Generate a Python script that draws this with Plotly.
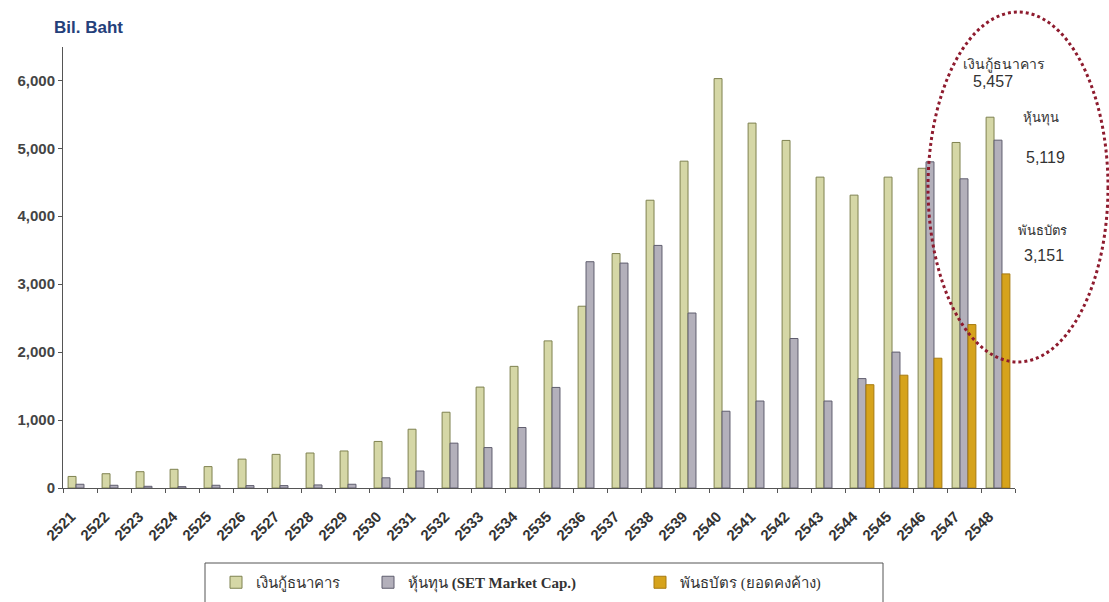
import plotly.graph_objects as go

# Buddhist-era years, 2521-2548
years = [str(y) for y in range(2521, 2549)]

# Outstanding amounts, billion baht
bank_loans = [170, 210, 240, 275, 315, 425, 495, 515, 545, 685, 865, 1115, 1485, 1790,
              2165, 2675, 3450, 4235, 4810, 6025, 5370, 5115, 4575, 4310, 4575, 4705,
              5085, 5457]
equity = [55, 40, 25, 20, 40, 35, 35, 45, 55, 150, 250, 660, 595, 890,
          1480, 3330, 3310, 3570, 2575, 1130, 1280, 2200, 1280, 1610, 2000, 4800,
          4550, 5119]
bonds = [None] * 23 + [1520, 1660, 1910, 2405, 3151]

series_names = ["เงินกู้ธนาคาร", "หุ้นทุน <b>(SET Market Cap.)</b>", "พันธบัตร (ยอดคงค้าง)"]
callout_names = ["เงินกู้ธนาคาร", "หุ้นทุน", "พันธบัตร"]

W, H = 1109, 602
L, R, T, B = 63, 94, 47, 114
PW, PH = W - L - R, H - T - B


def paper(px, py):
    return (px - L) / PW, (H - B - py) / PH


fills = ["#d5d7a6", "#b3b0bb", "#d6a31c"]
edges = ["#7f8250", "#5f5d6e", "#a77a10"]
legend_ids = ["legend", "legend2", "legend3"]

fig = go.Figure()
for vals, name, fc, ec, lg in zip([bank_loans, equity, bonds], series_names, fills, edges, legend_ids):
    fig.add_trace(go.Bar(x=years, y=vals, name=name, legend=lg,
                         marker=dict(color=fc, line=dict(color=ec, width=1))))

# call-out labels for the latest year
labels = [
    (callout_names[0], 1004, 64, 14),
    (f"{bank_loans[-1]:,}", 993, 81, 16),
    (callout_names[1], 1041, 118, 13),
    (f"{equity[-1]:,}", 1045, 158, 16),
    (callout_names[2], 1042, 231, 13),
    (f"{bonds[-1]:,}", 1044, 255, 16),
]
annotations = []
for text, x, y, size in labels:
    ax, ay = paper(x, y)
    annotations.append(dict(text=text, x=ax, y=ay, xref="paper", yref="paper",
                            showarrow=False, xanchor="center", yanchor="middle",
                            font=dict(family="Liberation Sans, Arial, sans-serif",
                                      size=size, color="#333333")))

tx, ty = paper(88, 27)
annotations.append(dict(text="<b>Bil. Baht</b>", x=tx, y=ty, xref="paper", yref="paper",
                        showarrow=False, xanchor="center", yanchor="middle",
                        font=dict(family="Liberation Sans, Arial, sans-serif",
                                  size=17, color="#24407a")))

ex0, ey0 = paper(928, 362)
ex1, ey1 = paper(1108, 12)
bx0, by0 = paper(205, 605)
bx1, by1 = paper(883, 563)

legend_font = dict(family="Liberation Serif, Times New Roman, serif", size=15, color="#333333")


def legend_at(px):
    lx, ly = paper(px, 566)
    return dict(orientation="h", x=lx, y=ly, xanchor="left", yanchor="top",
                borderwidth=0, bgcolor="rgba(0,0,0,0)", font=legend_font, itemwidth=30)


fig.update_layout(
    width=W, height=H,
    margin=dict(l=L, r=R, t=T, b=B, autoexpand=False),
    paper_bgcolor="white", plot_bgcolor="white",
    barmode="group", bargap=0.3, bargroupgap=0,
    showlegend=True,
    legend=legend_at(216), legend2=legend_at(368), legend3=legend_at(640),
    annotations=annotations,
    shapes=[
        dict(type="circle", xref="paper", yref="paper",
             x0=ex0, x1=ex1, y0=ey0, y1=ey1,
             line=dict(color="#8e1b2e", width=3, dash="dot")),
        dict(type="rect", xref="paper", yref="paper",
             x0=bx0, x1=bx1, y0=by0, y1=by1,
             line=dict(color="#555555", width=1), fillcolor="white", layer="below"),
    ],
    xaxis=dict(type="category", tickangle=-45, showgrid=False,
               showline=True, linecolor="#555555", linewidth=1,
               ticks="outside", ticklen=4, tickcolor="#555555", tickson="boundaries",
               ticklabelstandoff=13, ticklabelshift=-9,
               tickfont=dict(family="Liberation Sans, Arial, sans-serif",
                             size=15, color="#333333", weight="bold")),
    yaxis=dict(range=[0, 6490], tickvals=[0, 1000, 2000, 3000, 4000, 5000, 6000],
               tickformat=",d", showgrid=False, zeroline=False,
               showline=True, linecolor="#555555", linewidth=1,
               ticks="outside", ticklen=4, tickcolor="#555555",
               tickfont=dict(family="Liberation Sans, Arial, sans-serif",
                             size=15, color="#444444", weight="bold")),
)

fig.write_html("out.html")
